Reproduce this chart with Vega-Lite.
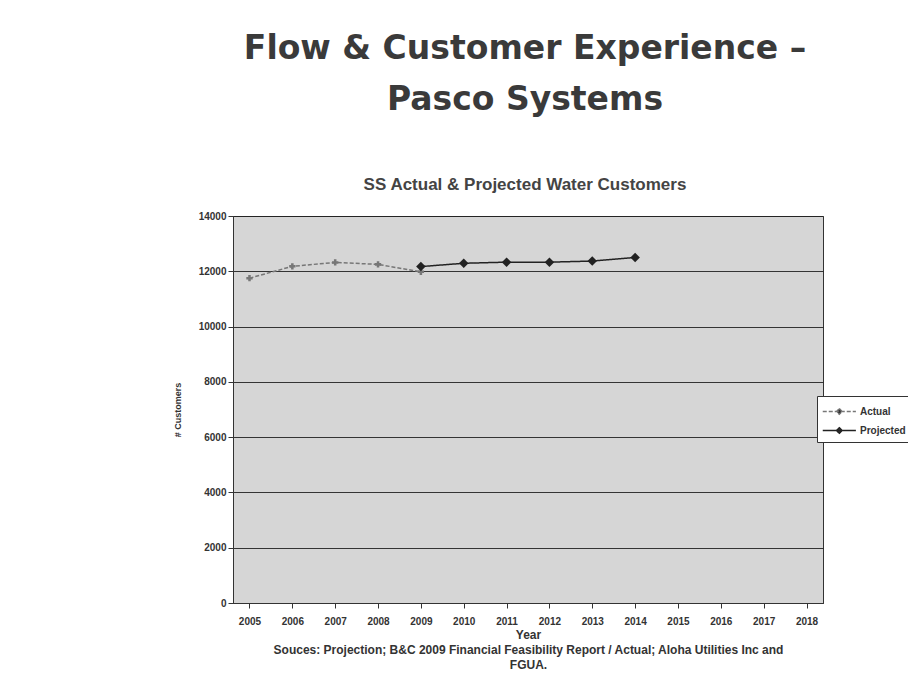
{
  "$schema": "https://vega.github.io/schema/vega-lite/v6.json",
  "autosize": {"type": "none"},
  "width": 590,
  "height": 387,
  "padding": {"left": 233, "top": 216, "right": 85, "bottom": 80},
  "background": "white",
  "title": {
    "text": ["Flow & Customer Experience –", "Pasco Systems"],
    "subtitle": "SS Actual & Projected Water Customers",
    "font": "DejaVu Sans",
    "fontSize": 33,
    "fontWeight": "bold",
    "color": "#3a3a3a",
    "lineHeight": 51,
    "subtitleFont": "Liberation Sans",
    "subtitleFontSize": 17,
    "subtitleFontWeight": "bold",
    "subtitleColor": "#444444",
    "subtitlePadding": 60,
    "anchor": "middle",
    "dx": -3,
    "offset": 18
  },
  "config": {
    "view": {"fill": "#d6d6d6", "stroke": "#333333", "strokeWidth": 1},
    "axis": {"labelFont": "Liberation Sans", "titleFont": "Liberation Sans", "labelColor": "#333", "titleColor": "#333", "domainColor": "#333", "tickColor": "#333"}
  },
  "data": {
    "values": [
      {"year": "2005", "series": "Actual", "customers": 11750},
      {"year": "2006", "series": "Actual", "customers": 12180},
      {"year": "2007", "series": "Actual", "customers": 12320},
      {"year": "2008", "series": "Actual", "customers": 12250},
      {"year": "2009", "series": "Actual", "customers": 11980},
      {"year": "2009", "series": "Projected", "customers": 12170},
      {"year": "2010", "series": "Projected", "customers": 12290},
      {"year": "2011", "series": "Projected", "customers": 12330},
      {"year": "2012", "series": "Projected", "customers": 12330},
      {"year": "2013", "series": "Projected", "customers": 12370},
      {"year": "2014", "series": "Projected", "customers": 12500}
    ]
  },
  "encoding": {
    "x": {
      "field": "year",
      "type": "ordinal",
      "scale": {"domain": ["2005","2006","2007","2008","2009","2010","2011","2012","2013","2014","2015","2016","2017","2018"], "padding": 0.385},
      "axis": {"labelAngle": 0, "labelFontSize": 10, "labelFontWeight": "bold", "labelPadding": 8, "grid": false,
        "title": ["Year", "Souces: Projection;  B&C 2009 Financial Feasibility Report / Actual; Aloha Utilities Inc and", "FGUA."],
        "titleFontSize": 12, "titleFontWeight": "bold", "titlePadding": 3, "titleLineHeight": 15}
    },
    "y": {
      "field": "customers",
      "type": "quantitative",
      "scale": {"domain": [0, 14000], "nice": false},
      "axis": {"values": [0,2000,4000,6000,8000,10000,12000,14000], "format": "d", "labelFontSize": 10, "labelFontWeight": "bold",
        "grid": true, "gridColor": "#222", "gridWidth": 1.2, "gridOpacity": 0.9,
        "title": "# Customers", "titleFontSize": 9, "titleFontWeight": "bold", "titlePadding": 16, "tickSize": 5}
    }
  },
  "layer": [
    {
      "mark": {"type": "line", "strokeWidth": 1.5},
      "encoding": {
        "color": {
          "field": "series",
          "type": "nominal",
          "scale": {"domain": ["Actual", "Projected"], "range": ["#777777", "#222222"]},
          "legend": {"orient": "none", "legendX": 584, "legendY": 180, "title": null, "fillColor": "white", "strokeColor": "#333",
            "padding": 5, "labelFont": "Liberation Sans", "labelFontSize": 10, "labelFontWeight": "bold", "labelColor": "#333",
            "symbolType": "M-1,0H2.4M0.7,-0.3L1,0L0.7,0.3L0.4,0Z", "symbolSize": 380, "symbolStrokeWidth": 1.3,
            "symbolFillColor": "#333333", "rowPadding": 2, "labelOffset": 17}
        },
        "strokeDash": {"field": "series", "type": "nominal", "scale": {"domain": ["Actual", "Projected"], "range": [[4,2],[1,0]]},
          "legend": {"orient": "none", "legendX": 584, "legendY": 180, "title": null}}
      }
    },
    {
      "transform": [{"filter": "datum.series == 'Actual'"}],
      "mark": {"type": "point", "filled": true, "opacity": 1, "shape": "cross", "size": 40, "color": "#777777"}
    },
    {
      "transform": [{"filter": "datum.series == 'Projected'"}],
      "mark": {"type": "point", "filled": true, "opacity": 1, "shape": "diamond", "size": 90, "color": "#222222"}
    }
  ]
}
